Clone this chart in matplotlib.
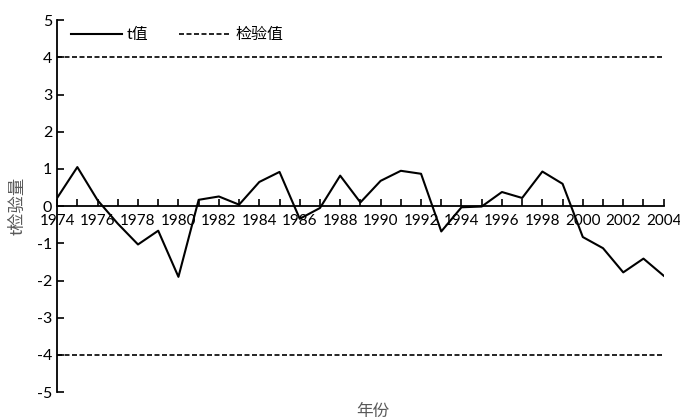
import matplotlib
matplotlib.use("Agg")
import matplotlib.pyplot as plt
import numpy as np

plt.rcParams['font.family'] = ['Lato', 'Noto Sans CJK SC', 'DejaVu Sans']
plt.rcParams['axes.unicode_minus'] = False

# data
years = list(range(1974, 2005))
t_values = [0.22, 1.05, 0.16, -0.47, -1.03, -0.66, -1.90, 0.17, 0.26, 0.04,
            0.65, 0.92, -0.34, -0.05, 0.82, 0.10, 0.68, 0.95, 0.87, -0.68,
            -0.03, -0.01, 0.38, 0.22, 0.93, 0.60, -0.83, -1.13, -1.78, -1.41,
            -1.87]
critical = 4
y_ticks = [-5, -4, -3, -2, -1, 0, 1, 2, 3, 4, 5]

fig = plt.figure(figsize=(6.8, 4.19), dpi=100)
ax = fig.add_axes([0.084, 0.064, 0.892, 0.888])

ax.plot(years, t_values, color='black', lw=1.5, label='t值')
ax.plot(years, [critical] * len(years), color='black', lw=1.2,
        ls=(0, (3, 1.5)), label='检验值')
ax.plot(years, [-critical] * len(years), color='black', lw=1.2,
        ls=(0, (3, 1.5)))

ax.set_xlim(years[0], years[-1])
ax.set_ylim(-5, 5)

ax.spines['top'].set_visible(False)
ax.spines['right'].set_visible(False)
ax.spines['bottom'].set_position(('data', 0))
ax.spines['bottom'].set_linewidth(1.3)
ax.spines['left'].set_linewidth(1.3)

ax.set_xticks(years)
ax.set_xticklabels([str(y) if (y - years[0]) % 2 == 0 else '' for y in years])
ax.set_yticks(y_ticks)
ax.tick_params(axis='both', direction='in', length=5, width=1.2,
               labelsize=11.5, colors='black')
ax.tick_params(axis='x', pad=6, labelsize=11)

ax.set_xlabel('年份', fontsize=12, color='#595959')
ax.xaxis.set_label_coords(0.52, -0.03)
ax.set_ylabel('t检验量', fontsize=12.5, color='#595959', labelpad=0)
ax.yaxis.set_label_coords(-0.052, 0.5)

ax.legend(loc='upper left', bbox_to_anchor=(0.01, 1.0), ncol=2, frameon=False,
          fontsize=11.5, handlelength=3.2, columnspacing=1.9,
          handletextpad=0.3, borderaxespad=0.1)

fig.savefig('out.png', dpi=100)
